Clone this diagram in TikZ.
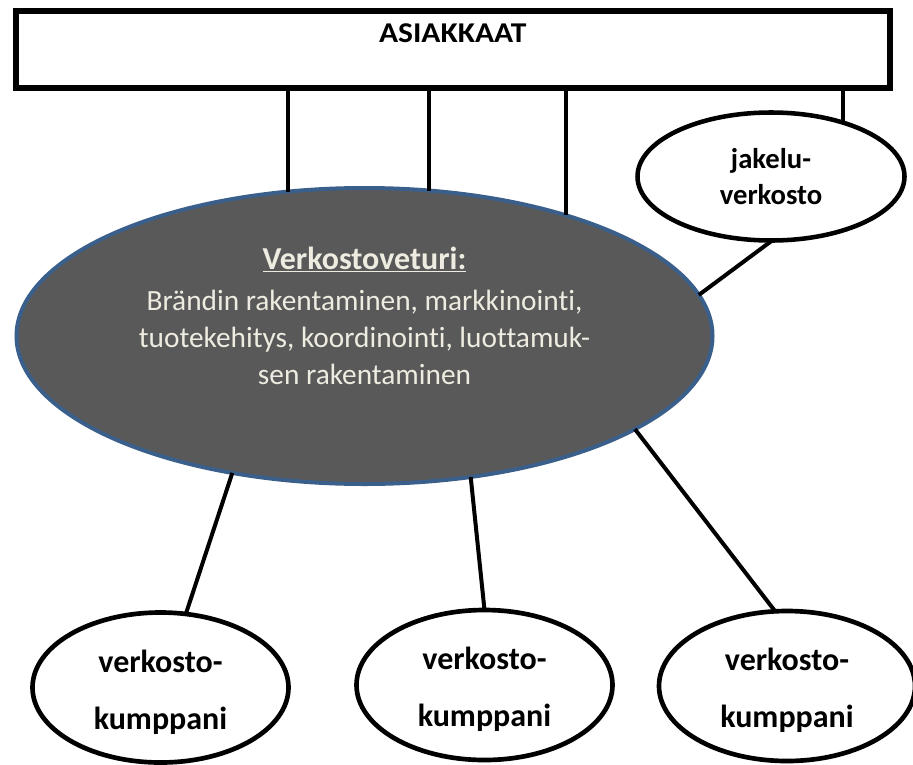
\documentclass[tikz,border=0pt]{standalone}
\usepackage{fontspec}
\setmainfont{Carlito}[Ligatures=CommonOff]
\newfontfamily\leveafont{Carlito}[Ligatures=CommonOff, FakeStretch=1.1]
\usetikzlibrary{shapes.geometric}

\definecolor{veturiharmaa}{HTML}{595959}
\definecolor{veturisini}{HTML}{3A5F8B}
\definecolor{tekstivalko}{HTML}{EEECE1}

\begin{document}
\begin{tikzpicture}[x=0.75pt, y=-0.75pt,
    yhteys/.style={line width=3pt},
    kumppani/.style={draw, ellipse, line width=3.5pt, fill=white, minimum width=192pt, minimum height=112.5pt,
      inner sep=0pt, outer sep=0pt, align=center, font=\bfseries\fontsize{24}{42.75}\selectfont}]
    \useasboundingbox (0,0) rectangle (913,764);

    % asiakkaat ylhaalla
    \node[draw, line width=4.5pt, minimum width=655.5pt, minimum height=57.75pt, inner sep=0pt,
      label={[font=\leveafont\bfseries\fontsize{21.5}{26}\selectfont, yshift=11.9pt]center:ASIAKKAAT}] (asiakkaat) at (452.7,49.3) {};

    % verkostoveturi keskella
    \node[ellipse, draw=veturisini, fill=veturiharmaa, line width=3pt, minimum width=522pt, minimum height=222pt,
      inner sep=0pt, outer sep=0pt,
      label={[text=tekstivalko, align=center, font=\fontsize{22}{27.75}\selectfont, yshift=15pt]center:{{\fontsize{24}{30}\selectfont\bfseries\underline{Verkostoveturi:}}\\[3pt]Brändin rakentaminen, markkinointi,\\tuotekehitys, koordinointi, luottamuk-\\sen rakentaminen}}] (veturi) at (364.5,336) {};

    % jakeluverkosto oikealla
    \node[ellipse, draw, line width=3.4pt, fill=white, minimum width=200.25pt, minimum height=96pt,
      inner sep=0pt, outer sep=0pt, align=center, font=\bfseries\fontsize{21.5}{27}\selectfont] (jakelu) at (771,176.5) {jakelu-\\verkosto};

    % verkostokumppanit alhaalla
    \node[kumppani] (kumppani1) at (160.5,687.5) {\rule{0pt}{24pt}verkosto-\\kumppani};
    \node[kumppani] (kumppani2) at (484.5,685) {\rule{0pt}{24pt}verkosto-\\kumppani};
    \node[kumppani] (kumppani3) at (787,686) {\rule{0pt}{24pt}verkosto-\\kumppani};

    % yhteydet asiakkaisiin
    \draw[yhteys] (veturi.118 |- asiakkaat.south) -- (veturi.118);
    \draw[yhteys] (veturi.66 |- asiakkaat.south) -- (veturi.66);
    \draw[yhteys] (veturi.31 |- asiakkaat.south) ++(0,-3) -- (veturi.31);
    \draw[yhteys] (jakelu.37 |- asiakkaat.south) ++(0,-3) -- (jakelu.37);

    % yhteydet veturista
    \draw[yhteys] (jakelu.271) -- (veturi.7);
    \draw[yhteys] (veturi.226) -- (kumppani1.71);
    \draw[yhteys] (veturi.307) -- (kumppani2.90);
    \draw[yhteys] (veturi.341) -- (kumppani3.99);
\end{tikzpicture}
\end{document}
